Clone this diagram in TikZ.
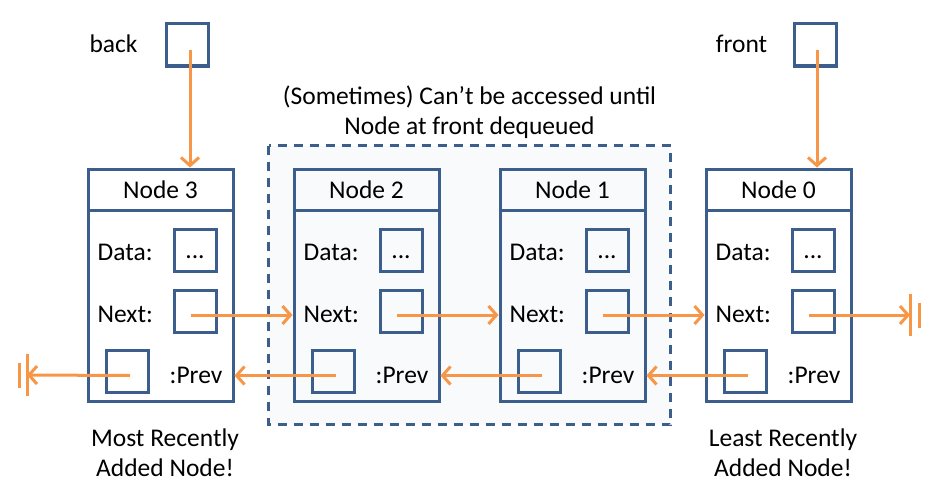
\documentclass[tikz,border=0pt]{standalone}
\usepackage{fontspec}
\setmainfont{Carlito}
\usetikzlibrary{arrows.meta,calc}
\definecolor{boxblue}{RGB}{59,94,140}
\definecolor{linkorange}{RGB}{247,150,70}
\definecolor{shade}{RGB}{248,250,252}
\tikzset{
  every node/.style={font=\fontsize{25.5}{30}\selectfont},
  qnode/.style={draw=boxblue, line width=3pt, minimum width=145pt, minimum height=232pt, inner sep=0pt},
  cell/.style={draw=boxblue, line width=3pt, minimum size=42pt, inner sep=0pt},
  lbl/.style={inner sep=0pt},
  link/.style={draw=linkorange, line width=3pt, -{Straight Barb[length=8pt,width=18pt]}},
  ground/.style={draw=linkorange, line width=3pt},
}
\begin{document}
\begin{tikzpicture}[x=1pt,y=-1pt]
    \useasboundingbox (0,0) rectangle (947,503);
    % Region that waits for the front
    \draw[boxblue, line width=3pt, dash pattern=on 9pt off 7pt, fill=shade] (268.5,145.5) rectangle (670.5,424.5);
    \node[lbl, align=center] (note) at (469.5,112) {(Sometimes) Can’t be accessed until\\Node at front dequeued};

    % Queue nodes
    \foreach \i in {0,1,2,3} {
        \pgfmathsetmacro{\cx}{160.5+206*(3-\i)}
        \node[qnode] (n\i) at (\cx,285) {};
        \draw[boxblue, line width=3pt] ($(n\i.north west)+(0,43)$) -- ($(n\i.north east)+(0,43)$);
        \node[lbl] (t\i) at ($(n\i.north)+(0,22)$) {Node \i};
        \node[cell] (d\i) at ($(n\i.center)+(34.5,-35)$) {\vphantom{D}...};
        \node[cell] (nx\i) at ($(n\i.center)+(34.5,26)$) {};
        \node[cell] (pv\i) at ($(n\i.center)+(-33.5,86)$) {};
        \node[lbl, anchor=west] (dl\i) at ($(n\i.west)+(11,-33)$) {Data:};
        \node[lbl, anchor=west] (nl\i) at ($(n\i.west)+(11,29)$) {Next:};
        \node[lbl, anchor=east] (pl\i) at ($(n\i.east)+(-12,90)$) {:Prev};
        \coordinate (ns\i) at ($(nx\i.center)+(-4,4)$);
        \coordinate (ps\i) at ($(pv\i.center)+(3,4.5)$);
    }

    % Next links
    \foreach \i/\j in {3/2,2/1,1/0} {
        \draw[link] (ns\i) -- (ns\i -| n\j.west);
    }
    % Prev links
    \foreach \i/\k in {0/1,1/2,2/3} {
        \draw[link] (ps\i) -- (ps\i -| n\k.east);
    }

    % Null ends
    \coordinate (gndL) at (27,375);
    \draw[link] (ps3) -- (gndL);
    \draw[ground] ($(gndL)+(0,-21)$) -- ($(gndL)+(0,21)$);
    \draw[ground] ($(gndL)+(-8,-12.5)$) -- ($(gndL)+(-8,12.5)$);
    \coordinate (gndR) at (910,315);
    \draw[link] (ns0) -- (gndR);
    \draw[ground] ($(gndR)+(0,-21)$) -- ($(gndR)+(0,21)$);
    \draw[ground] ($(gndR)+(9,-12.5)$) -- ($(gndR)+(9,12.5)$);

    % back and front pointers
    \node[cell] (bk) at (187,45) {};
    \node[lbl] (bkl) at (113.5,43.5) {back};
    \coordinate (bkp) at ($(bk.center)+(3,5)$);
    \draw[link] (bkp) -- (bkp |- n3.north);
    \node[cell] (fr) at (815,45) {};
    \node[lbl] (frl) at (741.5,43.5) {front};
    \coordinate (frp) at ($(fr.center)+(2,5)$);
    \draw[link] (frp) -- (frp |- n0.north);

    % Captions
    \node[lbl, align=center] (most) at ($(n3.south)+(4.5,50)$) {Most Recently\\Added Node!};
    \node[lbl, align=center] (least) at ($(n0.south)+(4.5,50)$) {Least Recently\\Added Node!};
\end{tikzpicture}
\end{document}
